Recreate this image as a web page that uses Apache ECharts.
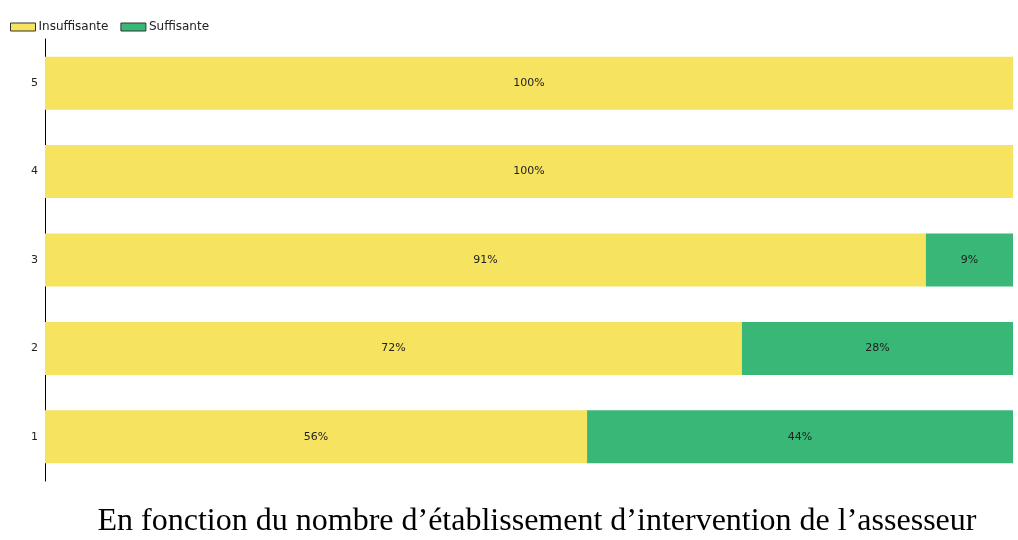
<!DOCTYPE html>
<html>
<head>
<meta charset="utf-8">
<script src="https://cdn.jsdelivr.net/npm/echarts@6/dist/echarts.min.js"></script>
<style>
  html, body { margin: 0; padding: 0; background: #fff; }
  #chart { width: 1018px; height: 540px; }
</style>
</head>
<body>
<div id="chart"></div>
<script>
// categories (number of establishments)
var categories = ['1', '2', '3', '4', '5'];

// percentages per category
var insuffisante = [56, 72, 91, 100, 100];
var suffisante = [44, 28, 9, 0, 0];

var yellow = '#f6e360';
var green = '#38b777';

function pctLabel(p) {
  return p.value > 0 ? p.value + '%' : '';
}

var myChart = echarts.init(document.getElementById('chart'));

var option = {
  animation: false,
  title: {
    text: 'En fonction du nombre d\u2019\u00e9tablissement d\u2019intervention de l\u2019assesseur',
    left: 532,
    textAlign: 'center',
    top: 501,
    textStyle: {
      fontFamily: 'Liberation Serif',
      fontWeight: 'normal',
      fontSize: 32,
      color: '#000'
    }
  },
  legend: {
    left: 5,
    top: 16,
    icon: 'rect',
    itemWidth: 25,
    itemHeight: 8,
    itemGap: 12,
    textStyle: {
      fontFamily: 'DejaVu Sans',
      fontSize: 12,
      color: '#222',
      padding: [0, 0, 0, -2]
    },
    data: [
      { name: 'Insuffisante', itemStyle: { borderColor: '#333', borderWidth: 1 } },
      { name: 'Suffisante', itemStyle: { borderColor: '#333', borderWidth: 1 } }
    ]
  },
  grid: {
    left: 45,
    right: 5,
    top: 39,
    bottom: 59,
    containLabel: false
  },
  xAxis: {
    type: 'value',
    min: 0,
    max: 100,
    show: false
  },
  yAxis: {
    type: 'category',
    data: categories,
    axisLine: { show: true, lineStyle: { color: '#000', width: 1 } },
    axisTick: { show: false },
    axisLabel: {
      fontFamily: 'DejaVu Sans',
      fontSize: 11,
      color: '#222',
      margin: 7
    }
  },
  series: [{
    name: 'Insuffisante',
    type: 'bar',
    stack: 'total',
    barCategoryGap: '40%',
    itemStyle: { color: yellow },
    label: {
      show: true,
      position: 'inside',
      formatter: pctLabel,
      fontFamily: 'DejaVu Sans',
      fontSize: 11,
      color: '#222'
    },
    data: insuffisante
  }, {
    name: 'Suffisante',
    type: 'bar',
    stack: 'total',
    barCategoryGap: '40%',
    itemStyle: { color: green },
    label: {
      show: true,
      position: 'inside',
      formatter: pctLabel,
      fontFamily: 'DejaVu Sans',
      fontSize: 11,
      color: '#222'
    },
    data: suffisante
  }]
};

myChart.setOption(option);
</script>
</body>
</html>
